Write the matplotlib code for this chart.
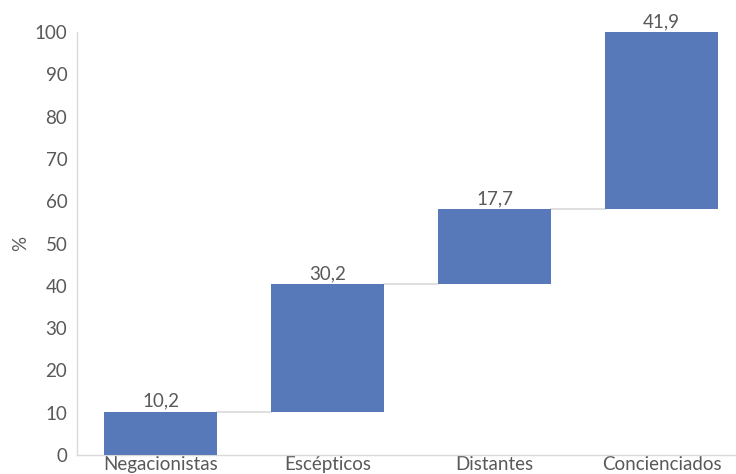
import matplotlib
matplotlib.use("Agg")
import matplotlib.pyplot as plt
import numpy as np

categories = ["Negacionistas", "Escépticos", "Distantes", "Concienciados"]
values = [10.2, 30.2, 17.7, 41.9]
labels = ["10,2", "30,2", "17,7", "41,9"]

plt.rcParams['font.family'] = ['Lato', 'DejaVu Sans']

fig = plt.figure(figsize=(7.36, 4.74), dpi=100)
ax = fig.add_axes([77/736, 19/474, 668/736, 423/474])

bar_color = "#5779BA"
text_color = "#595959"
grid_color = "#D9D9D9"

x = np.arange(len(categories))
bottoms = np.concatenate([[0], np.cumsum(values)[:-1]])
tops = bottoms + np.array(values)
width = 0.68
ax.bar(x, values, bottom=bottoms, width=width, color=bar_color, zorder=3)

for i in range(len(categories) - 1):
    ax.plot([x[i] + width/2, x[i+1] - width/2], [tops[i], tops[i]],
            color=grid_color, lw=1.2, zorder=2)

fs = 13.5
for xi, t, lab in zip(x, tops, labels):
    ax.text(xi, t + 0.5, lab, ha="center", va="bottom", fontsize=fs, color=text_color)

ax.set_xlim(-0.5, 3.5)
ax.set_ylim(0, 100)
ax.set_yticks(range(0, 101, 10))
ax.set_xticks(x)
ax.set_xticklabels(categories)
ax.tick_params(axis="both", length=0, labelsize=fs, labelcolor=text_color)
ax.tick_params(axis="y", pad=7)
ax.tick_params(axis="x", pad=1)
ax.set_ylabel("%", fontsize=fs, color=text_color, labelpad=4)
for s in ["top", "right"]:
    ax.spines[s].set_visible(False)
for s in ["left", "bottom"]:
    ax.spines[s].set_color(grid_color)
    ax.spines[s].set_linewidth(1.0)

fig.savefig("out.png", dpi=100)
